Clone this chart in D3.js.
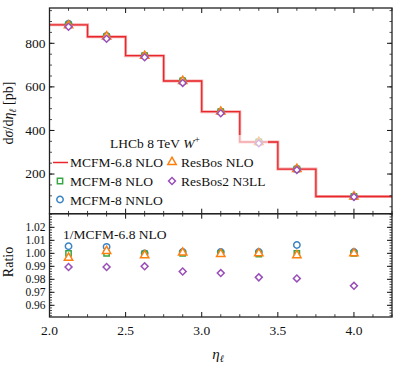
<!DOCTYPE html>
<html>
<head>
<meta charset="utf-8">
<script src="https://cdn.jsdelivr.net/npm/d3@7"></script>
<style>
  body { margin: 0; background: #fff; }
  svg text { font-family: 'Liberation Serif', 'DejaVu Serif', serif; fill: #111; }
</style>
</head>
<body>
<svg width="407" height="369" font-family="Liberation Serif, DejaVu Serif, serif"></svg>
<script>
// bin edges and centres in eta
var binEdges = [2.0, 2.25, 2.5, 2.75, 3.0, 3.25, 3.5, 3.75, 4.25];
var etaPoints = [2.125, 2.375, 2.625, 2.875, 3.125, 3.375, 3.625, 4.0];

// d sigma / d eta [pb]
var mcfm68NLO = [885, 830, 743, 627, 486, 347, 223, 97];
var mcfm8NLO = [885, 830, 743, 627, 486, 347, 223, 97];
var mcfm8NNLO = [890, 834, 743, 628, 486, 347, 224, 97];
var resbosNLO = [882, 831, 742, 627, 486, 347, 223, 97];
var resbos2N3LL = [876, 821, 736, 618, 479, 341, 219, 95];

// ratios to MCFM-6.8 NLO
var ratioMcfm8NLO = [1.000, 1.000, 0.9995, 1.000, 1.000, 0.9995, 1.000, 1.000];
var ratioMcfm8NNLO = [1.0054, 1.005, 1.000, 1.001, 1.001, 1.001, 1.0064, 1.001];
var errMcfm8NNLO = [0.001, 0.001, 0.001, 0.001, 0.001, 0.001, 0.0015, 0.001];
var ratioResbosNLO = [0.9966, 1.0018, 0.9985, 1.0005, 0.9995, 1.000, 0.9985, 1.000];
var ratioResbos2N3LL = [0.9895, 0.9895, 0.990, 0.986, 0.9848, 0.9815, 0.9807, 0.975];

var xTicks = [2.0, 2.5, 3.0, 3.5, 4.0];
var topTicks = [200, 400, 600, 800];
var ratioTicks = [0.96, 0.97, 0.98, 0.99, 1.00, 1.01, 1.02];

var red = "#e8262b", blue = "#3a83c4", green = "#3aa544", orange = "#ff7f0e", purple = "#9a4fb8";
var FONT = "'Liberation Serif', 'DejaVu Serif', serif";

var svg = d3.select("svg");
var left = 49.5, right = 392, top1 = 8, mid = 213.7, bot = 317;

var x = d3.scaleLinear().domain([2.0, 4.25]).range([left, right]);
var yTop = d3.scaleLinear().domain([18, 962]).range([mid, top1]);
var yRat = d3.scaleLinear().domain([0.951, 1.0305]).range([bot, mid]);

function txt(g, xx, yy, size) {
  return g.append("text").attr("x", xx).attr("y", yy).style("font-family", FONT).style("font-size", size + "px");
}

function frame(y, yTicksMaj, yMinorStep, fmt, labelSize) {
  var g = svg.append("g");
  var d = y.domain();
  // minor y ticks
  var minors = d3.range(Math.ceil(d[0] / yMinorStep) * yMinorStep, d[1], yMinorStep);
  minors.forEach(function(v) {
    g.append("line").attr("x1", left).attr("x2", left + 2.5).attr("y1", y(v)).attr("y2", y(v)).attr("stroke", "#222").attr("stroke-width", 0.8);
    g.append("line").attr("x1", right).attr("x2", right - 2.5).attr("y1", y(v)).attr("y2", y(v)).attr("stroke", "#222").attr("stroke-width", 0.8);
  });
  yTicksMaj.forEach(function(v) {
    g.append("line").attr("x1", left).attr("x2", left + 5).attr("y1", y(v)).attr("y2", y(v)).attr("stroke", "#111").attr("stroke-width", 1);
    g.append("line").attr("x1", right).attr("x2", right - 5).attr("y1", y(v)).attr("y2", y(v)).attr("stroke", "#111").attr("stroke-width", 1);
    txt(g, left - 4, y(v) + labelSize * 0.33, labelSize).attr("text-anchor", "end").text(fmt(v));
  });
  var r = y.range();
  var xm = d3.range(2.0, 4.26, 0.125);
  xm.forEach(function(v) {
    var major = Math.abs(v * 2 - Math.round(v * 2)) < 1e-6;
    var len = major ? 5 : 2.8;
    g.append("line").attr("x1", x(v)).attr("x2", x(v)).attr("y1", r[0]).attr("y2", r[0] - len).attr("stroke", "#111").attr("stroke-width", major ? 1 : 0.8);
    g.append("line").attr("x1", x(v)).attr("x2", x(v)).attr("y1", r[1]).attr("y2", r[1] + len).attr("stroke", "#111").attr("stroke-width", major ? 1 : 0.8);
  });
  g.append("rect").attr("x", left).attr("y", r[1]).attr("width", right - left).attr("height", r[0] - r[1])
    .attr("fill", "none").attr("stroke", "#222").attr("stroke-width", 1.3);
}

// ---- top panel: step line
var stepData = [];
mcfm68NLO.forEach(function(v, i) {
  stepData.push([binEdges[i], v]);
  stepData.push([binEdges[i + 1], v]);
});
var stepLine = d3.line().x(function(d) { return x(d[0]); }).y(function(d) { return yTop(d[1]); });
svg.append("path").attr("d", stepLine(stepData)).attr("fill", "none").attr("stroke", "#f28c8c").attr("stroke-width", 3).attr("opacity", 0.7);
svg.append("path").attr("d", stepLine(stepData)).attr("fill", "none").attr("stroke", red).attr("stroke-width", 1.3);

var sym = {
  circle: d3.symbol().type(d3.symbolCircle).size(32),
  square: d3.symbol().type(d3.symbolSquare).size(28),
  triangle: d3.symbol().type(d3.symbolTriangle).size(30),
  diamond: d3.symbol().type(d3.symbolSquare).size(24)
};

function markers(vals, y, shape, color, errs) {
  var g = svg.append("g");
  if (errs) {
    g.selectAll("line").data(vals).enter().append("line")
      .attr("x1", function(d, i) { return x(etaPoints[i]); })
      .attr("x2", function(d, i) { return x(etaPoints[i]); })
      .attr("y1", function(d, i) { return y(d - errs[i]); })
      .attr("y2", function(d, i) { return y(d + errs[i]); })
      .attr("stroke", color).attr("stroke-width", 1).attr("opacity", 0.5);
  }
  g.selectAll("path").data(vals).enter().append("path")
    .attr("d", sym[shape]())
    .attr("transform", function(d, i) {
      return "translate(" + x(etaPoints[i]) + "," + y(d) + ")" + (shape === "diamond" ? " rotate(45)" : "");
    })
    .attr("fill", "#fff").attr("stroke", color).attr("stroke-width", 1.5);
}

markers(mcfm8NNLO, yTop, "circle", blue);
markers(mcfm8NLO, yTop, "square", green);
markers(resbosNLO, yTop, "triangle", orange);
markers(resbos2N3LL, yTop, "diamond", purple);

// legend box (semi transparent)
svg.append("rect").attr("x", 52).attr("y", 135).attr("width", 216).attr("height", 76)
  .attr("fill", "#fff").attr("opacity", 0.6);

txt(svg, 110, 148, 13.5)
  .html('LHCb 8 TeV <tspan font-style="italic">W</tspan><tspan dy="-5" font-size="9.5px">+</tspan>');

var lg = svg.append("g");
lg.append("line").attr("x1", 53).attr("x2", 68).attr("y1", 162.5).attr("y2", 162.5).attr("stroke", red).attr("stroke-width", 1.5);
txt(lg, 70, 167, 13.5).text("MCFM-6.8 NLO");
lg.append("path").attr("d", sym.square()).attr("transform", "translate(60,181)").attr("fill", "#fff").attr("stroke", green).attr("stroke-width", 1.5);
txt(lg, 70, 186, 13.5).text("MCFM-8 NLO");
lg.append("path").attr("d", sym.circle()).attr("transform", "translate(60,199.5)").attr("fill", "#fff").attr("stroke", blue).attr("stroke-width", 1.5);
txt(lg, 70, 204.5, 13.5).text("MCFM-8 NNLO");
lg.append("path").attr("d", sym.triangle()).attr("transform", "translate(172,162)").attr("fill", "#fff").attr("stroke", orange).attr("stroke-width", 1.5);
txt(lg, 181, 167, 13.5).text("ResBos NLO");
lg.append("path").attr("d", sym.diamond()).attr("transform", "translate(172,181) rotate(45)").attr("fill", "#fff").attr("stroke", purple).attr("stroke-width", 1.5);
txt(lg, 181, 186, 13.5).text("ResBos2 N3LL");

frame(yTop, topTicks, 50, d3.format("d"), 13.5);

// ---- ratio panel
markers(ratioMcfm8NNLO, yRat, "circle", blue, errMcfm8NNLO);
markers(ratioMcfm8NLO, yRat, "square", green);
markers(ratioResbosNLO, yRat, "triangle", orange);
markers(ratioResbos2N3LL, yRat, "diamond", purple);

txt(svg, 63, 239, 13.5).text("1/MCFM-6.8 NLO");

frame(yRat, ratioTicks, 0.002, d3.format(".2f"), 11.5);

// x tick labels
xTicks.forEach(function(v) {
  txt(svg, x(v), 335, 13.5).attr("text-anchor", "middle").text(d3.format(".1f")(v));
});

// axis titles
txt(svg, 218, 359, 15).attr("text-anchor", "middle")
  .html('<tspan font-style="italic">η</tspan><tspan dy="3" font-size="10px" font-style="italic">ℓ</tspan>');

txt(svg, 0, 0, 14).attr("transform", "translate(13,262) rotate(-90)").attr("text-anchor", "middle")
  .text("Ratio");

txt(svg, 0, 0, 14).attr("transform", "translate(13,113) rotate(-90)").attr("text-anchor", "middle")
  .html('d<tspan font-style="italic">σ</tspan>/d<tspan font-style="italic">η</tspan><tspan dy="3" font-size="10px" font-style="italic">ℓ</tspan><tspan dy="-3"> [pb]</tspan>');
</script>
</body>
</html>
